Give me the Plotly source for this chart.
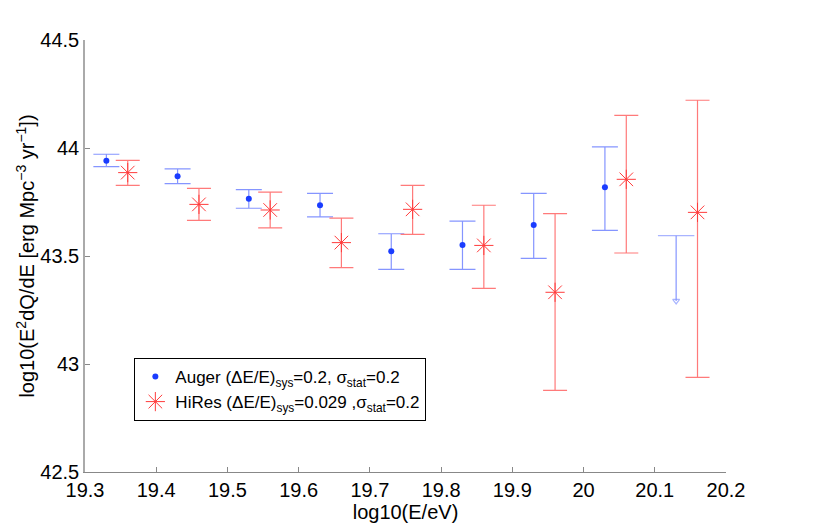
import plotly.graph_objects as go

# Auger points (log10 E, value, upper/lower error bar ends)
auger_x = [19.33, 19.43, 19.53, 19.63, 19.73, 19.83, 19.93, 20.03]
auger_y = [43.941, 43.869, 43.765, 43.735, 43.522, 43.551, 43.644, 43.818]
auger_hi = [43.971, 43.903, 43.807, 43.790, 43.603, 43.661, 43.790, 44.005]
auger_lo = [43.914, 43.835, 43.721, 43.681, 43.438, 43.438, 43.489, 43.619]

# Auger upper limit in the last bin
limit_x = [20.13, 20.13]
limit_y = [43.594, 43.292]

# HiRes points
hires_x = [19.36, 19.46, 19.56, 19.66, 19.76, 19.86, 19.96, 20.06, 20.16]
hires_y = [43.886, 43.739, 43.713, 43.562, 43.716, 43.549, 43.332, 43.855, 43.702]
hires_hi = [43.943, 43.813, 43.796, 43.675, 43.827, 43.735, 43.696, 44.151, 44.221]
hires_lo = [43.827, 43.665, 43.630, 43.446, 43.600, 43.350, 42.878, 43.514, 42.938]

x_ticks = [19.3, 19.4, 19.5, 19.6, 19.7, 19.8, 19.9, 20.0, 20.1, 20.2]
x_labels = ['19.3', '19.4', '19.5', '19.6', '19.7', '19.8', '19.9', '20', '20.1', '20.2']
y_ticks = [42.5, 43, 43.5, 44, 44.5]
y_labels = ['42.5', '43', '43.5', '44', '44.5']

blue = '#1a3cff'
blue_err = '#8595ff'
red = '#ff3b3b'
red_err = '#ff7a7a'

fig = go.Figure()

fig.add_trace(go.Scatter(
    x=auger_x, y=auger_y, mode='markers',
    name='Auger (ΔE/E)<sub>sys</sub>=0.2, σ<sub>stat</sub>=0.2',
    marker=dict(symbol='circle', size=6, color=blue),
    error_y=dict(type='data', symmetric=False,
                 array=[h - v for h, v in zip(auger_hi, auger_y)],
                 arrayminus=[v - l for v, l in zip(auger_y, auger_lo)],
                 color=blue_err, thickness=1.2, width=13),
))

fig.add_trace(go.Scatter(
    x=limit_x, y=limit_y, mode='lines+markers', showlegend=False,
    line=dict(color=blue_err, width=1.2),
    marker=dict(symbol=['line-ew', 'triangle-down-open'], size=[26, 6],
                color=blue_err, line=dict(color=blue_err, width=1.2)),
))

fig.add_trace(go.Scatter(
    x=hires_x, y=hires_y, mode='markers',
    name='HiRes (ΔE/E)<sub>sys</sub>=0.029 ,σ<sub>stat</sub>=0.2',
    marker=dict(symbol='asterisk-open', size=16, color=red,
                line=dict(color=red, width=1)),
    error_y=dict(type='data', symmetric=False,
                 array=[h - v for h, v in zip(hires_hi, hires_y)],
                 arrayminus=[v - l for v, l in zip(hires_y, hires_lo)],
                 color=red_err, thickness=1.2, width=12),
))

# the page body has an 8px margin, so the figure is 8px smaller than the window
fig.update_layout(
    width=822, height=522,
    margin=dict(l=77, r=104, t=32, b=58),
    paper_bgcolor='white', plot_bgcolor='white',
    font=dict(family='Liberation Sans, Arial, sans-serif', color='black'),
    legend=dict(x=0.077, y=0.264, xanchor='left', yanchor='top',
                bgcolor='white', bordercolor='black', borderwidth=1,
                font=dict(size=17)),
)

fig.update_xaxes(
    range=[19.3, 20.2], tickvals=x_ticks, ticktext=x_labels,
    ticks='inside', ticklen=5, tickcolor='#888',
    showline=True, linecolor='#888', linewidth=1.2, showgrid=False,
    zeroline=False, tickfont=dict(size=20),
    title=dict(text='log10(E/eV)', font=dict(size=20), standoff=0),
)
fig.update_yaxes(
    range=[42.5, 44.5], tickvals=y_ticks, ticktext=y_labels,
    ticks='inside', ticklen=5, tickcolor='#888',
    showline=True, linecolor='#aaa', linewidth=1.5, showgrid=False,
    zeroline=False, tickfont=dict(size=20),
    title=dict(text='log10(E<sup>2</sup>dQ/dE [erg Mpc<sup>−3</sup> yr<sup>−1</sup>])',
               font=dict(size=20), standoff=0),
)

fig.write_html('out.html')
